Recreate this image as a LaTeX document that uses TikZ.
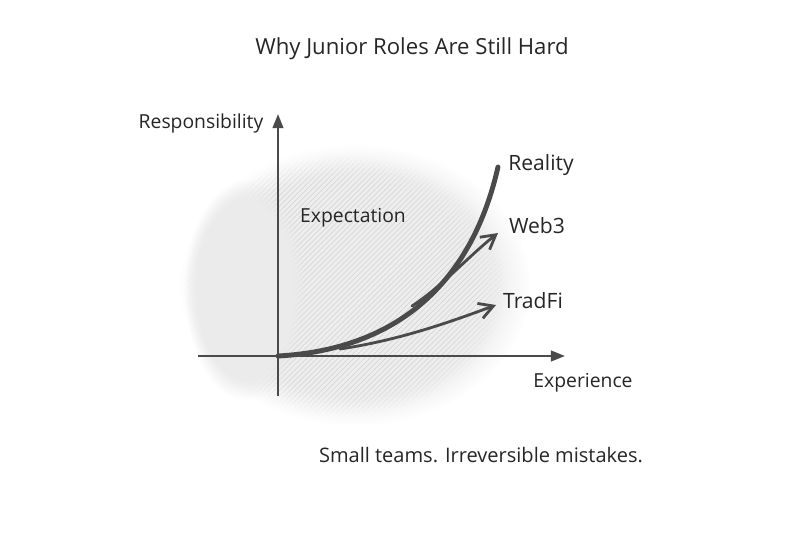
\documentclass[tikz,border=0pt]{standalone}
\usepackage{fontspec}
\setmainfont{Open Sans}
\usetikzlibrary{positioning, calc, arrows.meta, patterns, fadings}

\definecolor{pencil}{HTML}{4A4A4A}
\definecolor{ink}{HTML}{262626}

\begin{document}
\begin{tikzpicture}[
    x=0.02cm, y=-0.02cm,
    axis/.style={draw=pencil, line width=1.3pt, -{Triangle[length=8pt, width=6pt]}},
    curve/.style={draw=pencil, line width=2.8pt, line cap=round},
    branch/.style={draw=pencil, line width=1.6pt, line cap=round, -{Straight Barb[length=8pt, width=9pt, line width=1.6pt]}},
    lbl/.style={text=ink, font=\fontsize{11}{13}\selectfont, inner sep=1pt},
    every node/.style={inner sep=1pt}
  ]
  \useasboundingbox (0,0) rectangle (800,533);
  \fill[white] (0,0) rectangle (800,533);

  % pencil shading
  \fill[gray!13, path fading=circle with fuzzy edge 20 percent] (355,285) ellipse [x radius=175, y radius=140];
  \fill[pattern=north east lines, pattern color=gray!32, path fading=circle with fuzzy edge 20 percent] (345,285) ellipse [x radius=160, y radius=130];
  \fill[gray!16, path fading=circle with fuzzy edge 20 percent] (245,290) ellipse [x radius=60, y radius=110];

  % axes
  \coordinate (O) at (278,356);
  \coordinate (xstart) at (198,356);
  \coordinate (xend) at (565,356);
  \coordinate (ystart) at (278,396);
  \coordinate (yend) at (278,114);
  \draw[axis] (xstart) -- (xend);
  \draw[axis] (ystart) -- (yend);

  % curves
  \coordinate (realityEnd) at (498,167);
  \coordinate (web3Start) at (412,306);
  \coordinate (web3End) at (498,233);
  \coordinate (tradStart) at (340,349);
  \coordinate (tradEnd) at (496,305);
  \draw[curve] (O) .. controls (390,350) and (470,290) .. (realityEnd);
  \draw[branch] (web3Start) .. controls (440,288) and (470,255) .. (web3End);
  \draw[branch] (tradStart) .. controls (400,340) and (450,322) .. (tradEnd);

  % labels
  \node[lbl, font=\fontsize{12.6}{15}\selectfont] (title) at (412,49) {Why Junior Roles Are Still Hard};
  \node[lbl] (resp) at (201,123) {Responsibility};
  \node[lbl] (exper) at (583,383) {Experience};
  \node[lbl] (expect) at (353,218) {Expectation};
  \node[lbl, font=\fontsize{12}{14}\selectfont] (reality) at (541,165) {Reality};
  \node[lbl, font=\fontsize{12}{14}\selectfont] (web3) at (537,226) {Web3};
  \node[lbl, font=\fontsize{12}{14}\selectfont] (tradfi) at (533,301) {TradFi};
  \node[lbl, font=\fontsize{11.4}{14}\selectfont] (sub) at (481,455) {Small teams. Irreversible mistakes.};
\end{tikzpicture}
\end{document}
